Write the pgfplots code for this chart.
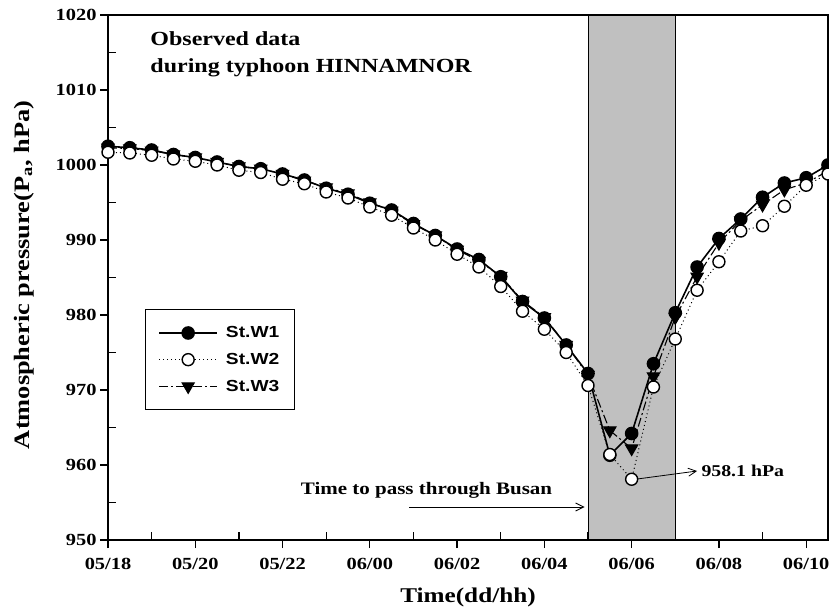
\documentclass[border=0pt]{standalone}
\usepackage{fontspec}
\setmainfont{Liberation Serif}[FakeStretch=1.2]
\newfontfamily\legfont{Liberation Sans}[FakeStretch=1.2]
\usepackage{pgfplots}
\usepackage{pgfplotstable}
\pgfplotsset{compat=1.18}
\usetikzlibrary{arrows.meta}
\definecolor{shade}{RGB}{192,192,192}

\pgfplotstableread{
t    w1     w2     w3
0    1002.5 1001.7 1002.3
0.5  1002.3 1001.6 1002.2
1    1002.0 1001.3 1001.9
1.5  1001.4 1000.8 1001.4
2    1001.0 1000.5 1001.0
2.5  1000.4 1000.0 1000.4
3    999.8  999.3  999.8
3.5  999.5  999.0  999.5
4    998.8  998.1  998.8
4.5  998.0  997.5  997.9
5    996.9  996.4  997.0
5.5  996.1  995.6  996.2
6    994.9  994.4  995.0
6.5  994.0  993.3  993.9
7    992.2  991.6  992.1
7.5  990.6  990.0  990.6
8    988.8  988.1  988.7
8.5  987.4  986.4  987.2
9    985.1  983.8  985.2
9.5  981.8  980.5  981.9
10   979.6  978.1  979.7
10.5 976.0  975.0  976.0
11   972.2  970.6  972.0
11.5 961.3  961.4  964.6
12   964.2  958.1  962.2
12.5 973.5  970.4  971.8
13   980.3  976.8  979.7
13.5 986.4  983.3  985.1
14   990.2  987.1  989.6
14.5 992.8  991.2  992.6
15   995.7  991.9  994.7
15.5 997.6  994.5  996.7
16   998.3  997.3  997.6
16.5 1000.0 998.8  999.2
}\data

\begin{document}
\begin{tikzpicture}
\begin{axis}[
  name=main,
  anchor=south west, at={(0pt,0pt)},
  scale only axis, width=720pt, height=525pt,
  xmin=0, xmax=16.5, ymin=950, ymax=1020,
  xtick={0,2,...,16},
  xticklabels={05/18,05/20,05/22,06/00,06/02,06/04,06/06,06/08,06/10},
  ytick={950,960,...,1020},
  extra x ticks={1,3,...,15}, extra x tick labels={},
  extra y ticks={955,965,...,1015}, extra y tick labels={},
  extra tick style={tick align=inside, major tick length=8pt},
  tick align=outside, major tick length=8pt,
  xtick pos=bottom, ytick pos=left,
  axis line style={line width=1.2pt},
  tick style={line width=1.2pt, black},
  /pgf/number format/assume math mode=true,
  /pgf/number format/1000 sep={},
  ticklabel style={font=\bfseries\fontsize{17}{17}\selectfont},
  xticklabel style={yshift=-7pt},
  xlabel={Time(dd/hh)},
  ylabel={Atmospheric pressure(P\textsubscript{a}, hPa)},
  every axis x label/.style={at={(axis description cs:0.5,-0.11)}, anchor=center,
    font=\bfseries\fontsize{21}{21}\selectfont},
  every axis y label/.style={at={(axis description cs:-0.117,0.505)}, rotate=90, anchor=center,
    font=\bfseries\fontsize{22}{22}\selectfont},
  axis on top,
  legend style={at={(axis description cs:0.051,0.44)}, anchor=north west,
    draw=black, line width=1.3pt, font=\legfont\bfseries\fontsize{16}{16}\selectfont,
    row sep=10pt, column sep=6pt, inner xsep=13pt, inner ysep=15pt},
  legend cell align=left,
  legend image code/.code={\draw[mark repeat=2, mark phase=2, #1] plot coordinates {(0pt,0pt)(29pt,0pt)(58pt,0pt)};},
]
\addplot[fill=shade, draw=black, line width=1pt, forget plot]
  coordinates {(11,950) (11,1020) (13,1020) (13,950) (11,950)};

\addplot[black, line width=1.1pt, dash pattern=on 9pt off 3pt on 2pt off 3pt,
  mark=triangle*, mark options={solid, rotate=180}, mark size=7pt, forget plot]
  table[x=t, y=w3]{\data};
\addplot[black, line width=1.6pt, mark=*, mark size=6pt, forget plot]
  table[x=t, y=w1]{\data};
\addplot[black, line width=1pt, dash pattern=on 1pt off 3pt,
  mark=*, mark options={solid, fill=white, line width=1.4pt}, mark size=6pt, forget plot]
  table[x=t, y=w2]{\data};

\addlegendimage{black, line width=1.6pt, mark=*, mark size=6pt}
\addlegendentry{St.W1}
\addlegendimage{black, line width=1pt, dash pattern=on 1pt off 3pt, mark=*, mark options={solid, fill=white, line width=1.4pt}, mark size=6pt}
\addlegendentry{St.W2}
\addlegendimage{black, line width=1.1pt, dash pattern=on 9pt off 3pt on 2pt off 3pt, mark=triangle*, mark options={solid, rotate=180}, mark size=7pt}
\addlegendentry{St.W3}

\node[anchor=north west, align=left, font=\bfseries\fontsize{20}{27}\selectfont]
  at (axis description cs:0.054,0.975) {Observed data\\during typhoon HINNAMNOR};

\draw[line width=0.8pt, -{Straight Barb[open, length=8pt, width=8pt]}]
  (axis cs:12.15,958.15) -- (axis cs:13.5,959.2);
\node[anchor=west, font=\bfseries\fontsize{16.5}{16.5}\selectfont] at (axis cs:13.52,959.2) {958.1 hPa};

\node[font=\bfseries\fontsize{17.5}{17.5}\selectfont] at (axis cs:7.3,956.6) {Time to pass through Busan};
\draw[line width=0.8pt, -{Straight Barb[open, length=8pt, width=8pt]}]
  (axis cs:6.9,954.4) -- (axis cs:10.92,954.4);
\end{axis}
\pgfresetboundingbox
\useasboundingbox (main.south west) ++(-108pt,-70pt) rectangle ++(829pt,610pt);
\end{tikzpicture}
\end{document}
